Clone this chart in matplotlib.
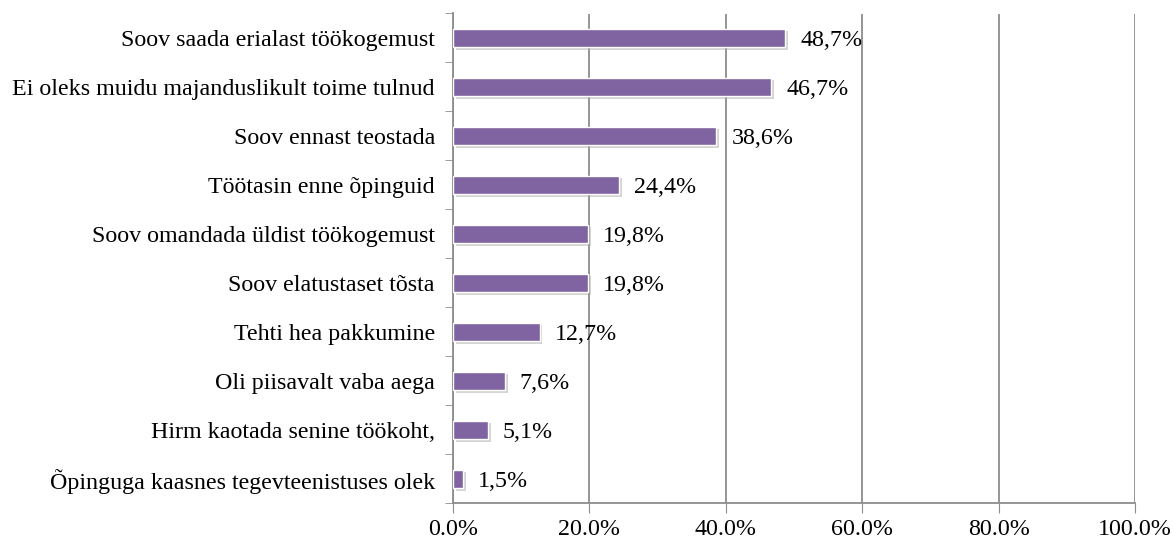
import matplotlib
matplotlib.use("Agg")
import matplotlib.pyplot as plt
import matplotlib.patheffects as pe
import numpy as np

# andmed
categories = [
    "Soov saada erialast töökogemust",
    "Ei oleks muidu majanduslikult toime tulnud",
    "Soov ennast teostada",
    "Töötasin enne õpinguid",
    "Soov omandada üldist töökogemust",
    "Soov elatustaset tõsta",
    "Tehti hea pakkumine",
    "Oli piisavalt vaba aega",
    "Hirm kaotada senine töökoht,",
    "Õpinguga kaasnes tegevteenistuses olek",
]
values = [48.7, 46.7, 38.6, 24.4, 19.8, 19.8, 12.7, 7.6, 5.1, 1.5]
xticks = [0, 20, 40, 60, 80, 100]

plt.rcParams['font.family'] = ['Liberation Serif', 'DejaVu Serif']
fs = 17.3

fig = plt.figure(figsize=(11.73, 5.4), dpi=100)
ax = fig.add_axes([0.3862, 0.0676, 0.9676 - 0.3862, 0.975 - 0.0676])

y = np.arange(len(categories))
bars = ax.barh(y, values, height=0.38, color='#8064A2', edgecolor='white', linewidth=1.0, zorder=3)
for b in bars:
    b.set_path_effects([pe.SimplePatchShadow(offset=(2, -2), shadow_rgbFace='#aaaaaa', alpha=0.5), pe.Normal()])

# väärtused
for yi, v in zip(y, values):
    ax.text(v + 2.2, yi + 0.05, f"{v:.1f}%".replace('.', ','), va='center', ha='left', fontsize=fs)

ax.set_xlim(0, 100)
ax.set_ylim(len(categories) - 0.5, -0.5)
ax.set_xticks(xticks)
ax.set_xticklabels([f"{t:.1f}%" for t in xticks], fontsize=fs)
ax.set_yticks(y)
ax.set_yticklabels(categories, fontsize=fs)
ax.tick_params(axis='y', length=0, pad=13)
ax.set_yticks(np.arange(len(categories) + 1) - 0.5, minor=True)
ax.tick_params(axis='y', which='minor', length=6, color='#8c8c8c')
ax.tick_params(axis='x', length=7, color='#8c8c8c', pad=4)

ax.grid(axis='x', color='#8c8c8c', linewidth=1.3, zorder=0)
for s in ['top', 'right']:
    ax.spines[s].set_visible(False)
for s in ['left', 'bottom']:
    ax.spines[s].set_color('#8c8c8c')
    ax.spines[s].set_linewidth(1.3)

fig.savefig("out.png", dpi=100)
